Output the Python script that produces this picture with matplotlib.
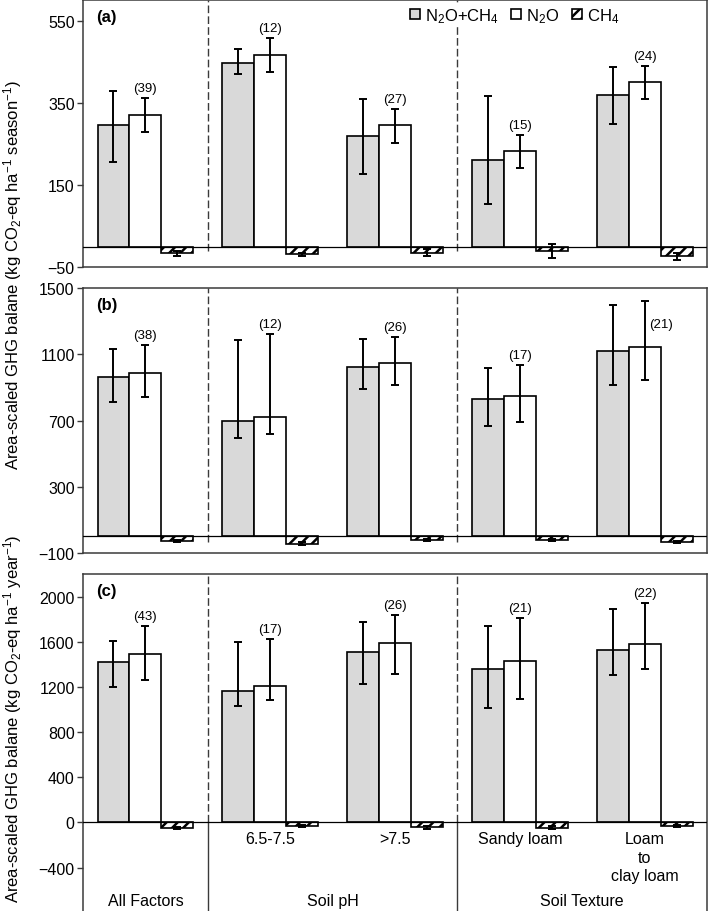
import numpy as np
import matplotlib
matplotlib.use("Agg")
import matplotlib.pyplot as plt
from matplotlib.patches import Patch
import matplotlib.transforms as mtransforms

plt.rcParams['font.family'] = ['Liberation Sans', 'DejaVu Sans']
plt.rcParams['mathtext.fontset'] = 'custom'
plt.rcParams['mathtext.rm'] = 'Liberation Sans'
plt.rcParams['mathtext.it'] = 'Liberation Sans:italic'
plt.rcParams['mathtext.bf'] = 'Liberation Sans:bold'
plt.rcParams['hatch.linewidth'] = 1.8

# group labels
sub_labels = ['', '6.5-7.5', '>7.5', 'Sandy loam', 'Loam\nto\nclay loam']
factor_labels = ['All Factors', 'Soil pH', 'Soil Texture']
factor_groups = [[0], [1, 2], [3, 4]]

# (a) seasonal
a_both = [295, 447, 269, 212, 369]
a_both_lo = [207, 421, 176, 104, 299]
a_both_hi = [380, 481, 360, 366, 438]
a_n2o = [320, 466, 295, 232, 400]
a_n2o_lo = [279, 426, 253, 191, 359]
a_n2o_hi = [361, 507, 336, 272, 440]
a_ch4 = [-17, -19, -15, -10, -24]
a_ch4_err = [6, 4, 9, 17, 8]
a_n = [39, 12, 27, 15, 24]

# (b)
b_both = [962, 695, 1022, 828, 1121]
b_both_lo = [814, 596, 891, 669, 913]
b_both_hi = [1132, 1186, 1192, 1016, 1396]
b_n2o = [984, 721, 1045, 851, 1145]
b_n2o_lo = [842, 620, 915, 689, 942]
b_n2o_hi = [1156, 1224, 1206, 1035, 1424]
b_ch4 = [-30, -44, -24, -24, -34]
b_ch4_err = [6, 10, 6, 6, 8]
b_n = [38, 12, 26, 17, 21]

# (c) annual
c_both = [1423, 1167, 1512, 1355, 1526]
c_both_lo = [1197, 1029, 1229, 1011, 1306]
c_both_hi = [1605, 1597, 1774, 1738, 1894]
c_n2o = [1491, 1209, 1585, 1432, 1576]
c_n2o_lo = [1262, 1082, 1317, 1091, 1362]
c_n2o_hi = [1741, 1626, 1841, 1809, 1944]
c_ch4 = [-53, -30, -45, -46, -33]
c_ch4_err = [10, 8, 12, 10, 8]
c_n = [43, 17, 26, 21, 22]

GRAY = '#d9d9d9'
SPINE = '#3a3a3a'
W = 0.256

fig = plt.figure(figsize=(7.09, 9.12), dpi=100)
ax_a = fig.add_axes([0.1171, 0.7061, 0.8801, 0.2925])
ax_b = fig.add_axes([0.1171, 0.3925, 0.8801, 0.2906])
ax_c = fig.add_axes([0.1171, 0.0, 0.8801, 0.3695])


def draw_panel(ax, both, both_lo, both_hi, n2o, n2o_lo, n2o_hi, ch4, ch4_err,
               n, ylim, yticks, tag, dash_bottom):
    x = np.arange(len(both))
    ax.bar(x - W, both, W, color=GRAY, edgecolor='k', linewidth=1.2, zorder=2)
    ax.bar(x, n2o, W, color='white', edgecolor='k', linewidth=1.2, zorder=2)
    ax.bar(x + W, ch4, W, color='white', edgecolor='k', linewidth=1.2,
           hatch='///', zorder=2)
    both = np.array(both)
    n2o = np.array(n2o)
    ax.errorbar(x - W, both, yerr=[both - np.array(both_lo), np.array(both_hi) - both],
                fmt='none', ecolor='k', elinewidth=1.4, capsize=2.8, capthick=1.4, zorder=3)
    ax.errorbar(x, n2o, yerr=[n2o - np.array(n2o_lo), np.array(n2o_hi) - n2o],
                fmt='none', ecolor='k', elinewidth=1.4, capsize=2.8, capthick=1.4, zorder=3)
    ax.errorbar(x + W, ch4, yerr=ch4_err, fmt='none', ecolor='k',
                elinewidth=1.4, capsize=2.8, capthick=1.4, zorder=3)

    ax.axhline(0, color='k', linewidth=0.9, zorder=4)
    ax.set_xlim(-0.5, len(both) - 0.5)
    ax.set_ylim(*ylim)
    ax.set_yticks(yticks)
    ax.set_xticks([])
    ax.tick_params(axis='y', direction='out', length=4, width=1, pad=2,
                   labelsize=11.5, color=SPINE)
    for s in ax.spines.values():
        s.set_color(SPINE)
        s.set_linewidth(1.1)

    # group separators
    for xs in [0.5, 2.5]:
        ax.plot([xs, xs], [dash_bottom, ylim[1]], color=SPINE, linewidth=1,
                linestyle=(0, (5.5, 2.3)), zorder=1)

    # sample sizes
    span = ylim[1] - ylim[0]
    for i, (hi, cnt) in enumerate(zip(n2o_hi, n)):
        if (hi - ylim[0]) / span > 0.93:
            ax.annotate(f'({cnt})', xy=(i, hi), xytext=(3, -17),
                        textcoords='offset points', ha='left', va='center',
                        fontsize=9.5)
        else:
            ax.annotate(f'({cnt})', xy=(i, hi), xytext=(0, 7.2),
                        textcoords='offset points', ha='center', va='center',
                        fontsize=9.5)

    ax.text(0.021, 1 - 16 / (ax.get_position().height * 912), tag,
            transform=ax.transAxes, fontsize=12, fontweight='bold',
            ha='left', va='center')


draw_panel(ax_a, a_both, a_both_lo, a_both_hi, a_n2o, a_n2o_lo, a_n2o_hi,
           a_ch4, a_ch4_err, a_n, (-50, 600), [-50, 150, 350, 550], '(a)', -10)
draw_panel(ax_b, b_both, b_both_lo, b_both_hi, b_n2o, b_n2o_lo, b_n2o_hi,
           b_ch4, b_ch4_err, b_n, (-100, 1500), [-100, 300, 700, 1100, 1500], '(b)', -35)
draw_panel(ax_c, c_both, c_both_lo, c_both_hi, c_n2o, c_n2o_lo, c_n2o_hi,
           c_ch4, c_ch4_err, c_n, (-785, 2200), [-400, 0, 400, 800, 1200, 1600, 2000], '(c)', 0)

# bottom category table in panel (c)
ax_c.spines['bottom'].set_visible(False)
for xs in [0.5, 2.5]:
    ax_c.plot([xs, xs], [-785, 0], color=SPINE, linewidth=1, zorder=1)
trans = mtransforms.blended_transform_factory(ax_c.transData, ax_c.transAxes)
for i, lab in enumerate(sub_labels):
    if lab:
        ax_c.text(i, 0.2374, lab, transform=trans, ha='center', va='top',
                  fontsize=11.5, linespacing=1.3)
for lab, grp in zip(factor_labels, factor_groups):
    ax_c.text(np.mean(grp), 0.0326, lab, transform=trans, ha='center',
              va='center', fontsize=11.5)

# legend (white box hides the dashed line behind it)
handles = [Patch(facecolor=GRAY, edgecolor='k', linewidth=1.2),
           Patch(facecolor='white', edgecolor='k', linewidth=1.2),
           Patch(facecolor='white', edgecolor='k', linewidth=1.2, hatch='///')]
leg = ax_a.legend(handles, ['N$_2$O+CH$_4$', 'N$_2$O', 'CH$_4$'], loc='center left',
                  bbox_to_anchor=(0.521, 0.944), ncol=3, frameon=True, fontsize=12,
                  handlelength=0.6, handleheight=0.6, handletextpad=0.3,
                  columnspacing=0.75, borderpad=0.1, borderaxespad=0,
                  fancybox=False, framealpha=1)
leg.get_frame().set_edgecolor('none')
leg.get_frame().set_facecolor('white')
leg.set_zorder(5)

# y axis labels
fig.text(0.017, 1 - 275 / 912,
         'Area-scaled GHG balane (kg CO$_2$-eq ha$^{-1}$ season$^{-1}$)',
         rotation=90, ha='center', va='center', fontsize=12)
fig.text(0.017, 1 - 719 / 912,
         'Area-scaled GHG balane (kg CO$_2$-eq ha$^{-1}$ year$^{-1}$)',
         rotation=90, ha='center', va='center', fontsize=12)

fig.savefig('out.png', dpi=100)
